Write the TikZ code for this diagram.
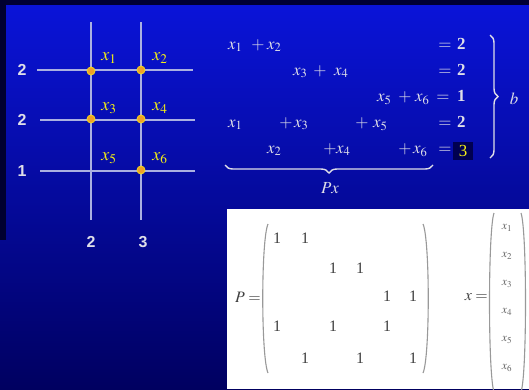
\documentclass[tikz,border=0pt]{standalone}
\usepackage{mathptmx}
\usepackage[no-math]{fontspec}
\setmainfont{Liberation Serif}
\setsansfont{Liberation Sans}
\usetikzlibrary{decorations.pathreplacing}
\definecolor{bgtop}{RGB}{10,20,218}
\definecolor{bgbot}{RGB}{0,0,96}
\definecolor{gridc}{RGB}{170,176,225}
\definecolor{eqc}{RGB}{222,222,232}
\definecolor{ylw}{RGB}{245,240,20}
\definecolor{dotc}{RGB}{240,160,40}
\definecolor{boxnavy}{RGB}{0,0,80}
\tikzset{
  gridline/.style={draw=gridc, line width=1.8bp},
  gdot/.style={circle, fill=dotc, draw=ylw!70!dotc, line width=0.8bp, minimum size=8bp, inner sep=0pt},
  ylbl/.style={text=ylw, font=\fontsize{18}{20}\selectfont, inner sep=0pt},
  num/.style={text=eqc, font=\fontsize{16}{18}\selectfont\sffamily\bfseries, inner sep=0pt},
  eq/.style={text=eqc, font=\fontsize{17}{19}\selectfont\boldmath\bfseries, inner sep=0pt, anchor=mid west},
  pl/.style={text=eqc, font=\fontsize{17}{19}\selectfont\boldmath\bfseries, inner sep=0pt, anchor=mid},
  brc/.style={draw=eqc, line width=1.4bp, decorate},
  ment/.style={text=black!75, font=\fontsize{16}{18}\selectfont, inner sep=0pt},
  vent/.style={text=black!60, font=\fontsize{12}{14}\selectfont, inner sep=0pt},
  paren/.style={draw=black!40, line width=1.1bp},
}
\begin{document}
\begin{tikzpicture}[x=1bp,y=-1bp]
\useasboundingbox (0,0) rectangle (529,389);
% background
\shade[top color=bgtop, bottom color=bgbot] (0,0) rectangle (529,389);
\fill[black!80!blue] (0,0) rectangle (529,5);
\fill[boxnavy!60!black] (0,0) rectangle (6,240);
% grid
\coordinate (v1t) at (91,22); \coordinate (v1b) at (91,220);
\coordinate (v2t) at (141,22); \coordinate (v2b) at (141,220);
\coordinate (h1l) at (37,70); \coordinate (h1r) at (193,70);
\coordinate (h2l) at (40,120); \coordinate (h2r) at (195,120);
\coordinate (h3l) at (40,171); \coordinate (h3r) at (195,171);
\draw[gridline] (v1t) -- (v1b);
\draw[gridline] (v2t) -- (v2b);
\draw[gridline] (h1l) -- (h1r);
\draw[gridline] (h2l) -- (h2r);
\draw[gridline] (h3l) -- (h3r);
\node[gdot] (d1) at (91,71) {};
\node[gdot] (d2) at (141,70) {};
\node[gdot] (d3) at (91,119) {};
\node[gdot] (d4) at (141,119) {};
\node[gdot] (d6) at (141,170) {};
\node[ylbl] (l1) at (109,58) {$x_1$};
\node[ylbl] (l2) at (160,58) {$x_2$};
\node[ylbl] (l3) at (109,108) {$x_3$};
\node[ylbl] (l4) at (160,108) {$x_4$};
\node[ylbl] (l5) at (109,158) {$x_5$};
\node[ylbl] (l6) at (160,158) {$x_6$};
\node[num] (r1) at (22,70) {2};
\node[num] (r2) at (22,120) {2};
\node[num] (r3) at (22,171) {1};
\node[num] (c1) at (91,242) {2};
\node[num] (c2) at (143,242) {3};
% equations
% line 1
\node[eq] (a11) at (228,47) {$x_1$};
\node[pl] (p11) at (258,47) {$+$};
\node[eq] (a12) at (267,47) {$x_2$};
\node[pl] (e1) at (445,47) {$=$};
\node[eq] (v1) at (457,47) {2};
% line 2
\node[eq] (a23) at (293,73) {$x_3$};
\node[pl] (p21) at (320,73) {$+$};
\node[eq] (a24) at (334,73) {$x_4$};
\node[pl] (e2) at (445,73) {$=$};
\node[eq] (v2) at (457,73) {2};
% line 3
\node[eq] (a35) at (377,99) {$x_5$};
\node[pl] (p31) at (405,99) {$+$};
\node[eq] (a36) at (415,99) {$x_6$};
\node[pl] (e3) at (443,99) {$=$};
\node[eq] (v3) at (457,99) {1};
% line 4
\node[eq] (a41) at (228,125) {$x_1$};
\node[pl] (p41) at (286,125) {$+$};
\node[eq] (a43) at (294,125) {$x_3$};
\node[pl] (p42) at (362,125) {$+$};
\node[eq] (a45) at (373,125) {$x_5$};
\node[pl] (e4) at (445,125) {$=$};
\node[eq] (v4) at (457,125) {2};
% line 5
\node[eq] (a52) at (267,151) {$x_2$};
\node[pl] (p51) at (330,151) {$+$};
\node[eq] (a54) at (336,151) {$x_4$};
\node[pl] (p52) at (405,151) {$+$};
\node[eq] (a56) at (413,151) {$x_6$};
\node[pl] (e5) at (445,151) {$=$};
\node[fill=boxnavy, minimum width=20bp, minimum height=18bp, inner sep=0pt, text=ylw, font=\fontsize{17}{19}\selectfont] (v5) at (463,151) {3};
% braces
\coordinate (bt) at (490,35); \coordinate (bb) at (490,158);
\draw[brc, decoration={brace, amplitude=8bp}] (bt) -- (bb);
\node[text=eqc, font=\fontsize{17}{19}\selectfont\boldmath, inner sep=0pt] (blbl) at (514,99) {$b$};
\coordinate (ul) at (225,165); \coordinate (ur) at (433,165);
\draw[brc, decoration={brace, amplitude=8bp}] (ur) -- (ul);
\node[text=eqc, font=\fontsize{17}{19}\selectfont\boldmath, inner sep=0pt] (pxl) at (330,188) {$Px$};
% white box
\fill[white] (227,209) rectangle (529,389);
% matrix P
\node[ment, anchor=east] (peq) at (261,297) {$P=$};
\coordinate (lpt) at (268,224); \coordinate (lpb) at (268,373);
\draw[paren] (lpt) .. controls (261,240) and (261,357) .. (lpb);
\coordinate (rpt) at (423,224); \coordinate (rpb) at (423,373);
\draw[paren] (rpt) .. controls (430,240) and (430,357) .. (rpb);
\node[ment] (m11) at (277,238) {1};
\node[ment] (m12) at (305,238) {1};
\node[ment] (m23) at (333,268) {1};
\node[ment] (m24) at (360,268) {1};
\node[ment] (m35) at (387,296) {1};
\node[ment] (m36) at (413,296) {1};
\node[ment] (m41) at (277,326) {1};
\node[ment] (m43) at (333,326) {1};
\node[ment] (m45) at (387,326) {1};
\node[ment] (m52) at (305,358) {1};
\node[ment] (m54) at (360,358) {1};
\node[ment] (m56) at (413,358) {1};
% vector x
\node[ment, anchor=east] (xeq) at (488,297) {$x=$};
\coordinate (vlt) at (494,213); \coordinate (vlb) at (494,392);
\draw[paren] (vlt) .. controls (488,230) and (488,375) .. (vlb);
\coordinate (vrt) at (521,213); \coordinate (vrb) at (521,392);
\draw[paren] (vrt) .. controls (527,230) and (527,375) .. (vrb);
\node[vent] (x1) at (507,228) {$x_1$};
\node[vent] (x2) at (507,256) {$x_2$};
\node[vent] (x3) at (507,284) {$x_3$};
\node[vent] (x4) at (507,312) {$x_4$};
\node[vent] (x5) at (507,340) {$x_5$};
\node[vent] (x6) at (507,368) {$x_6$};
\end{tikzpicture}
\end{document}
